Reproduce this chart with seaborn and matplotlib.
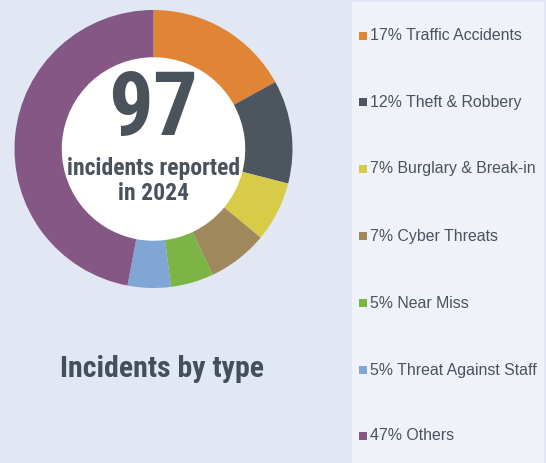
import matplotlib
matplotlib.use("Agg")
import matplotlib.pyplot as plt
from matplotlib.patches import Rectangle
import seaborn as sns

sns.set_theme(style="white")
plt.rcParams["font.family"] = ["Roboto Condensed", "DejaVu Sans"]

categories = ["Traffic Accidents", "Theft & Robbery", "Burglary & Break-in",
              "Cyber Threats", "Near Miss", "Threat Against Staff", "Others"]
shares = [17, 12, 7, 7, 5, 5, 47]
colors = ["#E08535", "#4D555E", "#D8CB48", "#9F895C", "#7DB446", "#7FA6D5", "#845785"]
total_incidents = 97
year = 2024

BG = "#E1E7F3"
PANEL = "#EFF3F9"
TEXT = "#4A535C"

W, H = 546, 463
fig = plt.figure(figsize=(W / 100, H / 100), dpi=100, facecolor=BG)

# legend panel
fig.patches.append(Rectangle((352 / W, 0), 192 / W, 461 / H, transform=fig.transFigure,
                             facecolor=PANEL, edgecolor="none", zorder=0))

# donut
cx, cy, r = 153.5, 149, 139
ax = fig.add_axes([(cx - r) / W, (H - cy - r) / H, 2 * r / W, 2 * r / H])
ax.pie(shares, colors=colors, startangle=90, counterclock=False,
       wedgeprops=dict(width=0.34, edgecolor="none"))
ax.add_patch(plt.Circle((0, 0), 0.66, color="white", zorder=0))
ax.set_aspect("equal")
ax.set_xlim(-1, 1)
ax.set_ylim(-1, 1)
ax.axis("off")

ax.text(0, 0.28, str(total_incidents), ha="center", va="center", fontsize=64,
        fontweight="bold", color=TEXT)
ax.text(0, -0.14, "incidents reported", ha="center", va="center", fontsize=17,
        fontweight="bold", color=TEXT)
ax.text(0, -0.32, f"in {year}", ha="center", va="center", fontsize=17,
        fontweight="bold", color=TEXT)

fig.text(162 / W, 1 - 369 / H, "Incidents by type", ha="center", va="center",
         fontsize=21.5, fontweight="bold", color="#434F5A")

# legend entries
ys = [36, 102, 169, 236, 303, 370, 436]
for y, cat, pct, col in zip(ys, categories, shares, colors):
    fig.patches.append(Rectangle((359 / W, 1 - (y + 4) / H), 8 / W, 8 / H,
                                 transform=fig.transFigure, facecolor=col,
                                 edgecolor="none"))
    fig.text(370 / W, 1 - y / H, f"{pct}% {cat}", ha="left", va="center",
             fontsize=11.4, color=TEXT, family=["Liberation Sans", "DejaVu Sans"])

fig.savefig("out.png", dpi=100, facecolor=BG)
